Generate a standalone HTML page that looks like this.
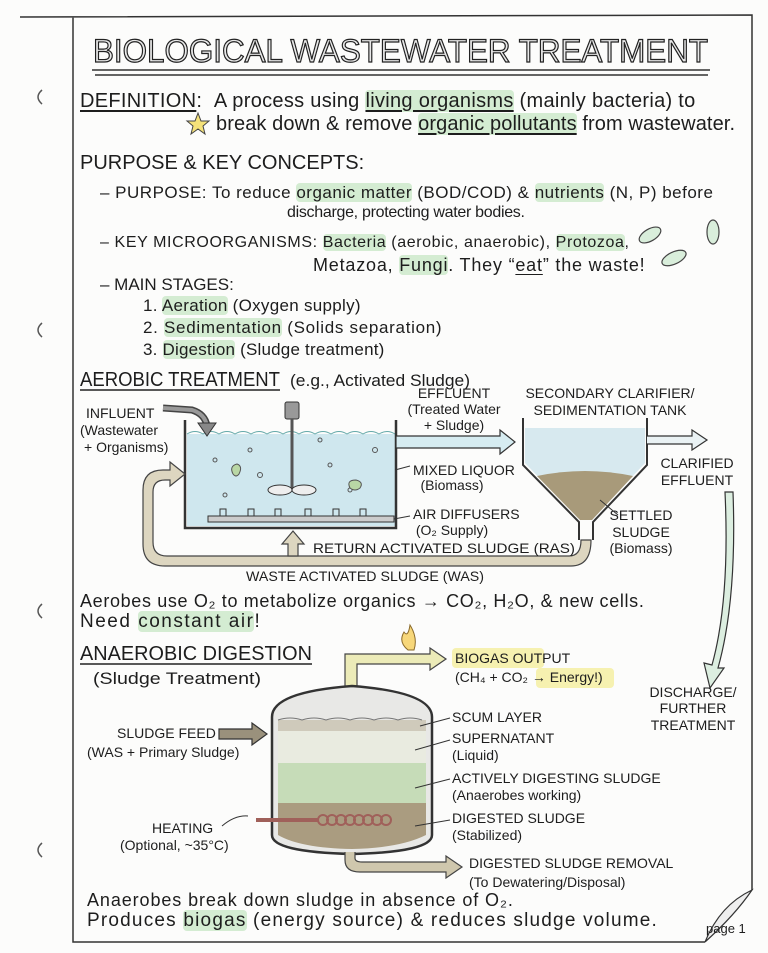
<!DOCTYPE html>
<html><head><meta charset="utf-8"><style>
html,body{margin:0;padding:0;background:#fff}
body{position:relative;width:768px;height:953px;overflow:hidden}
svg{display:block;position:absolute;left:0;top:0}
text{font-family:"Liberation Sans",sans-serif;fill:#1d1d1d}
.s{font-size:14px}
.h{font-size:20px}
.t{position:absolute;white-space:nowrap;font-family:"Liberation Sans",sans-serif;color:#1d1d1d;line-height:1}
.g{background:#d4ecd2;border-radius:4px}
.u{text-decoration:underline;text-underline-offset:3px}
</style></head><body>
<svg width="768" height="953" viewBox="0 0 768 953" xmlns="http://www.w3.org/2000/svg">
<rect width="768" height="953" fill="#fcfcfb"/>
<path d="M20 17 L752 15 L752 890 M73 17 L73 942 L705 942" fill="none" stroke="#333" stroke-width="1.5"/>
<path d="M705 942 Q720 905 752 890 Q735 915 705 942" fill="#eee" stroke="#333" stroke-width="1.2"/>
<g fill="none" stroke="#555" stroke-width="1.5">
<path d="M42 90 q-8 7 0 14"/><path d="M42 323 q-8 7 0 14"/><path d="M42 604 q-8 7 0 14"/><path d="M42 843 q-8 7 0 14"/>
</g>
<text x="93" y="62" font-size="32" textLength="615" lengthAdjust="spacingAndGlyphs" style="fill:#e8e8e8;stroke:#222;stroke-width:1.2">BIOLOGICAL WASTEWATER TREATMENT</text>
<path d="M92 70 L710 70 M95 75 L708 75" stroke="#333" stroke-width="1.5"/>
<g fill="#f6f1b0">
<rect x="452" y="648" width="92" height="20" rx="4"/>
<rect x="536" y="668" width="78" height="20" rx="4"/>
</g>
<polygon points="198,113 201,121 209,121 203,126 205,134 198,129 191,134 193,126 187,121 195,121" fill="#f5e27a" stroke="#444" stroke-width="1"/>
<g fill="#d9eedb" stroke="#444" stroke-width="1.2">
<ellipse cx="650" cy="235" rx="12" ry="6" transform="rotate(-30 650 235)"/>
<ellipse cx="713" cy="232" rx="6" ry="12"/>
<ellipse cx="674" cy="258" rx="13" ry="6" transform="rotate(-25 674 258)"/>
</g>
<text x="80" y="386" class="h" textLength="200" lengthAdjust="spacingAndGlyphs">AEROBIC TREATMENT</text>
<path d="M80 390 L280 390" stroke="#222" stroke-width="1.5"/>
<text x="290" y="386" font-size="17" textLength="180" lengthAdjust="spacingAndGlyphs">(e.g., Activated Sludge)</text>
<rect x="187" y="434" width="208" height="92" fill="#cfe7ee"/>
<path d="M187 434 q8-5 16 0 q8-5 16 0 q8-5 16 0 q8-5 16 0 q8-5 16 0 q8-5 16 0 q8-5 16 0 q8-5 16 0 q8-5 16 0 q8-5 16 0 q8-5 16 0 q8-5 16 0 q8-5 16 0" fill="none" stroke="#6aa" stroke-width="1"/>
<path d="M185 420 L185 528 L396 528 L396 420" fill="none" stroke="#333" stroke-width="2.5"/>
<rect x="208" y="516" width="186" height="6" fill="#ccc" stroke="#333"/>
<g fill="none" stroke="#333"><rect x="220" y="509" width="6" height="7"/><rect x="248" y="509" width="6" height="7"/><rect x="275" y="509" width="6" height="7"/><rect x="305" y="509" width="6" height="7"/><rect x="333" y="509" width="6" height="7"/><rect x="360" y="509" width="6" height="7"/></g>
<rect x="285" y="402" width="14" height="17" rx="2" fill="#999" stroke="#333"/>
<path d="M292 419 L292 490" stroke="#555" stroke-width="3"/>
<ellipse cx="280" cy="490" rx="12" ry="5" fill="#eee" stroke="#333"/><ellipse cx="304" cy="490" rx="12" ry="5" fill="#eee" stroke="#333"/>
<g fill="none" stroke="#555"><circle cx="215" cy="460" r="2"/><circle cx="260" cy="475" r="2.5"/><circle cx="330" cy="465" r="2"/><circle cx="375" cy="450" r="2.5"/><circle cx="225" cy="495" r="2"/><circle cx="350" cy="490" r="2"/><circle cx="320" cy="440" r="2"/><circle cx="250" cy="450" r="2"/></g>
<path d="M233 474 q-4-8 4-10 q6 2 2 10 q-3 4 -6 0z" fill="#b9d7a5" stroke="#555"/>
<path d="M350 488 q-4-8 6-8 q8 2 4 8 q-5 4 -10 0z" fill="#b9d7a5" stroke="#555"/>
<path d="M163 408 L192 410 Q205 414 207 426" fill="none" stroke="#444" stroke-width="7"/>
<path d="M163 408 L192 410 Q205 414 207 426" fill="none" stroke="#999" stroke-width="4"/>
<polygon points="198,423 216,423 207,436" fill="#888" stroke="#333"/>
<text x="86" y="418" class="s">INFLUENT</text>
<text x="80" y="435" class="s">(Wastewater</text>
<text x="84" y="452" class="s">+ Organisms)</text>
<path d="M396 436 L500 436 L500 430 L515 442 L500 454 L500 448 L396 448 Z" fill="#d6ecf1" stroke="#333" stroke-width="1.2"/>
<text x="454" y="398" class="s" text-anchor="middle">EFFLUENT</text>
<text x="454" y="414" class="s" text-anchor="middle">(Treated Water</text>
<text x="454" y="430" class="s" text-anchor="middle">+ Sludge)</text>
<path d="M525 428 L645 428 L645 463 L592 520 L580 520 L525 463 Z" fill="#d7e9ef"/>
<path d="M537 476 Q585 466 633 476 L592 520 L580 520 Z" fill="#a89a7a"/>
<path d="M523 418 L523 465 L579 522 L579 540 M647 418 L647 465 L593 522 L593 540" fill="none" stroke="#333" stroke-width="2"/>
<path d="M647 436 L692 436 L692 430 L707 440 L692 450 L692 444 L647 444" fill="#eaf2f4" stroke="#333" stroke-width="1.2"/>
<text x="610" y="398" class="s" text-anchor="middle">SECONDARY CLARIFIER/</text>
<text x="610" y="415" class="s" text-anchor="middle">SEDIMENTATION TANK</text>
<text x="697" y="468" class="s" text-anchor="middle">CLARIFIED</text>
<text x="697" y="485" class="s" text-anchor="middle">EFFLUENT</text>
<text x="413" y="475" class="s">MIXED LIQUOR</text>
<text x="452" y="490" class="s" text-anchor="middle">(Biomass)</text>
<text x="413" y="519" class="s">AIR DIFFUSERS</text>
<text x="452" y="535" class="s" text-anchor="middle">(O₂ Supply)</text>
<text x="641" y="520" class="s" text-anchor="middle">SETTLED</text>
<text x="641" y="537" class="s" text-anchor="middle">SLUDGE</text>
<text x="641" y="553" class="s" text-anchor="middle">(Biomass)</text>
<g fill="none" stroke="#333"><path d="M395 470 L410 466"/><path d="M394 519 L410 516"/><path d="M600 500 L618 515"/></g>
<path d="M591 540 Q591 566 571 566 L165 566 Q143 566 143 544 L143 490 Q143 470 163 470 L170 470 L170 462 L185 474 L170 486 L170 480 L165 480 Q153 480 153 492 L153 542 Q153 556 167 556 L569 556 Q581 556 581 540 Z" fill="#ddd6c0" stroke="#444" stroke-width="1.2"/>
<path d="M288 556 L288 544 L282 544 L293 531 L304 544 L298 544 L298 556 Z" fill="#ddd6c0" stroke="#444" stroke-width="1.2"/>
<text x="313" y="553" font-size="14" textLength="262" lengthAdjust="spacingAndGlyphs">RETURN ACTIVATED SLUDGE (RAS)</text>
<text x="246" y="581" class="s" textLength="238" lengthAdjust="spacingAndGlyphs">WASTE ACTIVATED SLUDGE (WAS)</text>
<path d="M725 492 Q730 600 712 665 L704 663 L710 688 L724 668 L718 668 Q737 600 733 492 Z" fill="#dceee0" stroke="#333" stroke-width="1.2"/>
<text x="80" y="660" class="h" textLength="232" lengthAdjust="spacingAndGlyphs">ANAEROBIC DIGESTION</text>
<path d="M80 664 L312 664" stroke="#222" stroke-width="1.5"/>
<text x="93" y="684" font-size="17" textLength="168" lengthAdjust="spacingAndGlyphs">(Sludge Treatment)</text>
<path d="M408 650 Q398 642 404 632 Q408 638 410 625 Q418 638 414 650 Z" fill="#f7d77a" stroke="#8a6a2a"/>
<path d="M345 690 L345 654 L430 654 L430 648 L446 659 L430 670 L430 664 L357 664 L357 690 Z" fill="#ecebb8" stroke="#444" stroke-width="1.2"/>
<path d="M272 717 Q272 692 352 686 Q432 692 432 717 L432 835 Q432 852 352 854 Q272 852 272 835 Z" fill="#e8e8e6" stroke="#333" stroke-width="2.5"/>
<rect x="278" y="720" width="148" height="11" fill="#cfcabb"/>
<rect x="278" y="731" width="148" height="32" fill="#e9ebe0"/>
<rect x="278" y="763" width="148" height="40" fill="#c6dcb8"/>
<path d="M278 803 L426 803 L426 835 Q400 848 352 849 Q300 848 278 835 Z" fill="#aa9c80"/>
<path d="M278 720 q12-4 24 0 q12-4 24 0 q12-4 24 0 q12-4 24 0 q12-4 24 0 q12-4 24 0" fill="none" stroke="#777"/>
<path d="M256 820 L318 820" stroke="#a0605a" stroke-width="4"/>
<g fill="none" stroke="#a0605a" stroke-width="2"><circle cx="323" cy="820" r="5"/><circle cx="332" cy="820" r="5"/><circle cx="341" cy="820" r="5"/><circle cx="350" cy="820" r="5"/><circle cx="359" cy="820" r="5"/><circle cx="368" cy="820" r="5"/><circle cx="377" cy="820" r="5"/><circle cx="386" cy="820" r="5"/></g>
<path d="M355 852 L355 858 Q355 862 362 862 L446 862 L446 856 L462 867 L446 878 L446 872 L360 872 Q345 872 345 860 L345 852" fill="#cfc7ad" stroke="#444" stroke-width="1.2"/>
<path d="M219 729 L252 729 L252 723 L267 734 L252 745 L252 739 L219 739 Z" fill="#9a917c" stroke="#333" stroke-width="1.2"/>
<text x="117" y="738" class="s">SLUDGE FEED</text>
<text x="87" y="757" class="s">(WAS + Primary Sludge)</text>
<text x="152" y="833" class="s">HEATING</text>
<text x="120" y="850" class="s">(Optional, ~35°C)</text>
<path d="M222 826 Q235 815 248 816" fill="none" stroke="#333"/>
<text x="455" y="663" class="s">BIOGAS OUTPUT</text>
<text x="455" y="682" class="s">(CH₄ + CO₂ → Energy!)</text>
<text x="452" y="722" class="s">SCUM LAYER</text>
<text x="452" y="743" class="s">SUPERNATANT</text>
<text x="452" y="760" class="s">(Liquid)</text>
<text x="452" y="783" class="s">ACTIVELY DIGESTING SLUDGE</text>
<text x="452" y="800" class="s">(Anaerobes working)</text>
<text x="452" y="823" class="s">DIGESTED SLUDGE</text>
<text x="452" y="840" class="s">(Stabilized)</text>
<text x="469" y="868" class="s">DIGESTED SLUDGE REMOVAL</text>
<text x="469" y="887" class="s">(To Dewatering/Disposal)</text>
<g fill="none" stroke="#333"><path d="M420 726 L450 718"/><path d="M415 750 L450 740"/><path d="M415 788 L450 779"/><path d="M415 826 L450 820"/></g>
<text x="693" y="697" class="s" text-anchor="middle">DISCHARGE/</text>
<text x="693" y="713" class="s" text-anchor="middle">FURTHER</text>
<text x="693" y="730" class="s" text-anchor="middle">TREATMENT</text>
<text x="706" y="933" style="font-size:13px">page 1</text>
</svg>
<div class="t" style="left:80px;top:91px;font-size:20px;letter-spacing:0.3px"><span class="u">DEFINITION</span>: &nbsp;A process using <span class="g u">living organisms</span> (mainly bacteria) to</div>
<div class="t" style="left:216px;top:114px;font-size:20px;letter-spacing:0.1px">break down &amp; remove <span class="g u">organic pollutants</span> from wastewater.</div>
<div class="t" style="left:80px;top:153px;font-size:20px">PURPOSE &amp; KEY CONCEPTS:</div>
<div class="t" style="left:100px;top:184px;font-size:17px;letter-spacing:0.5px">– PURPOSE: To reduce <span class="g">organic matter</span> (BOD/COD) &amp; <span class="g">nutrients</span> (N, P) before</div>
<div class="t" style="left:287px;top:205px;font-size:16px;letter-spacing:-0.3px">discharge, protecting water bodies.</div>
<div class="t" style="left:100px;top:235px;font-size:16px;letter-spacing:0.6px">– KEY MICROORGANISMS: <span class="g">Bacteria</span> (aerobic, anaerobic), <span class="g">Protozoa</span>,</div>
<div class="t" style="left:313px;top:256px;font-size:18px;letter-spacing:0.8px">Metazoa, <span class="g">Fungi</span>. They “<span class="u">eat</span>” the waste!</div>
<div class="t" style="left:100px;top:276px;font-size:17px">– MAIN STAGES:</div>
<div class="t" style="left:143px;top:297px;font-size:17px;letter-spacing:0.3px">1. <span class="g">Aeration</span> (Oxygen supply)</div>
<div class="t" style="left:143px;top:319px;font-size:17px;letter-spacing:0.7px">2. <span class="g">Sedimentation</span> (Solids separation)</div>
<div class="t" style="left:143px;top:341px;font-size:17px;letter-spacing:0.2px">3. <span class="g">Digestion</span> (Sludge treatment)</div>
<div class="t" style="left:80px;top:592px;font-size:18px;letter-spacing:0.65px">Aerobes use O₂ to metabolize organics → CO₂, H₂O, &amp; new cells.</div>
<div class="t" style="left:80px;top:612px;font-size:19px;letter-spacing:1.5px">Need <span class="g">constant air</span>!</div>
<div class="t" style="left:87px;top:891px;font-size:18px;letter-spacing:0.9px">Anaerobes break down sludge in absence of O₂.</div>
<div class="t" style="left:87px;top:911px;font-size:19px;letter-spacing:1.2px">Produces <span class="g">biogas</span> (energy source) &amp; reduces sludge volume.</div>
</body></html>
